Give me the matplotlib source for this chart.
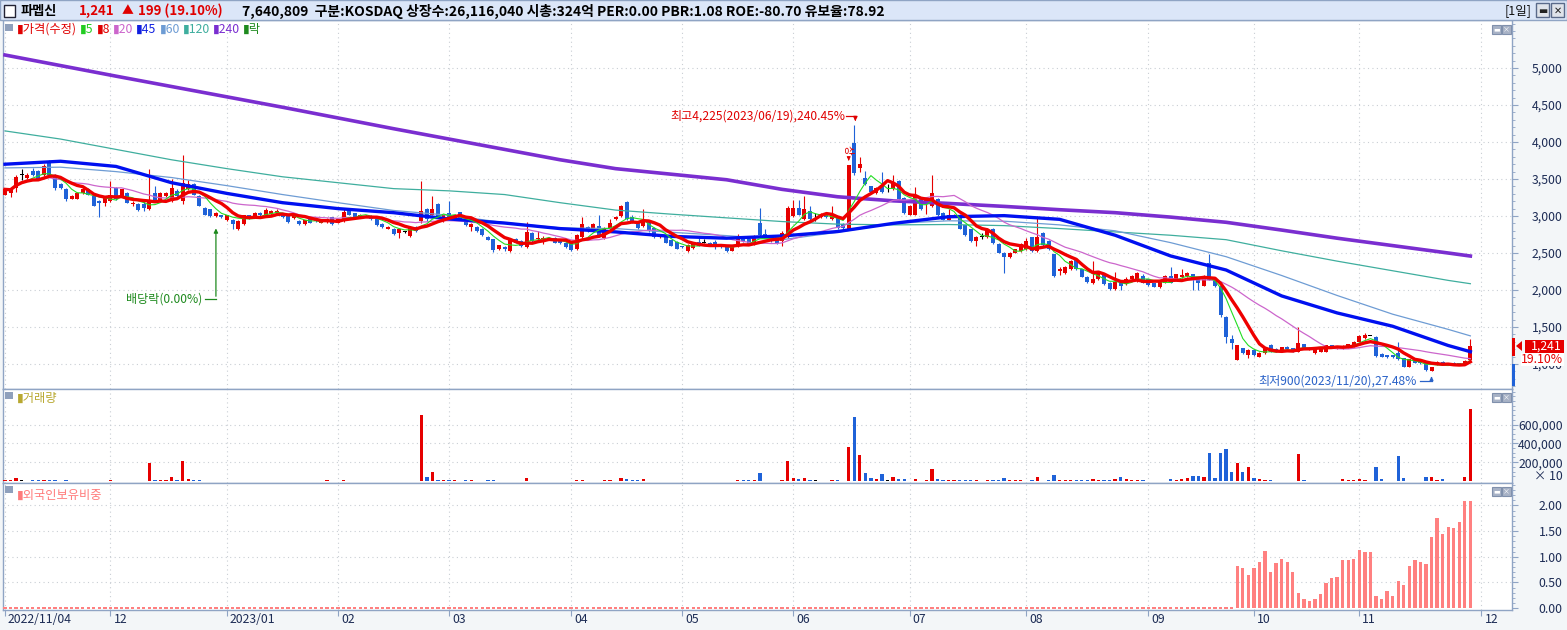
import matplotlib
matplotlib.use("Agg")
import matplotlib.pyplot as plt
import matplotlib.transforms as mtrans
from matplotlib.patches import Rectangle, Polygon
import numpy as np
import pandas as pd

plt.rcParams['font.family'] = ['Noto Sans CJK KR', 'DejaVu Sans']

# daily candles, 2022/11/04 .. 2023/11/29
open_ = [3290,3310,3380,3560,3520,3610,3610,3550,3740,3560,
         3430,3370,3235,3235,3305,3370,3270,3200,3180,3200,
         3380,3270,3315,3160,3160,3160,3090,3315,3200,3270,
         3200,3340,3200,3360,3430,3270,3110,3090,3000,3010,
         2940,2950,2820,2890,3010,3000,3045,3020,3030,3045,
         3020,3000,2970,2930,2890,2965,2965,2910,2920,2985,
         2910,2930,3070,3035,2980,3010,3000,2965,2890,2830,
         2830,2775,2785,2730,2845,2930,3100,3020,3160,2930,
         3045,2965,3055,2955,2855,2855,2830,2720,2685,2550,
         2575,2530,2685,2660,2575,2775,2685,2685,2685,2700,
         2665,2630,2650,2550,2710,2855,2800,2865,2700,2820,
         2955,3000,3190,2980,2920,2865,2930,2840,2710,2730,
         2670,2650,2595,2530,2570,2650,2640,2640,2650,2605,
         2595,2530,2595,2710,2685,2620,2910,2755,2715,2710,
         2665,2710,3000,3110,2955,3070,2980,2980,3020,2955,
         2980,2890,2820,3990,3650,3520,3400,3315,3400,3390,
         3360,3470,3250,3020,3020,3250,3160,3135,3225,3035,
         2945,2990,3020,2875,2820,2660,2720,2710,2830,2620,
         2505,2440,2505,2530,2550,2710,2530,2775,2660,2480,
         2260,2235,2280,2420,2280,2180,2090,2145,2210,2100,
         2010,2125,2080,2145,2120,2190,2145,2090,2035,2100,
         2190,2145,2170,2190,2210,2170,2055,2360,2150,2060,
         1640,1340,1054,1210,1125,1190,1100,1145,1260,1200,
         1165,1235,1210,1165,1265,1200,1150,1165,1165,1250,
         1210,1210,1220,1235,1300,1345,1380,1370,1140,1120,
         1120,1145,1075,965,1055,1040,1010,900,985,1030,
         1010,1020,1010,985,1050]
high = [3380,3380,3560,3640,3580,3650,3620,3700,3760,3570,
        3440,3380,3290,3330,3380,3380,3280,3210,3260,3470,
        3390,3370,3330,3200,3170,3200,3630,3400,3330,3330,
        3500,3360,3830,3480,3440,3280,3120,3100,3060,3020,
        3020,2960,2940,3020,3020,3050,3060,3110,3080,3090,
        3030,3010,3010,2940,2950,2980,2980,2940,2970,2990,
        2960,3110,3080,3040,3030,3020,3010,2970,2900,2870,
        2840,2840,2800,2860,2860,3470,3110,3270,3170,3020,
        3200,3030,3060,2960,2900,2860,2840,2730,2690,2610,
        2590,2690,2700,2670,2920,2790,2800,2730,2720,2710,
        2680,2650,2660,2760,2990,2870,2900,3010,2850,2960,
        3000,3150,3200,3010,2930,3100,2940,2850,2740,2740,
        2680,2660,2600,2620,2650,2700,2690,2650,2670,2620,
        2600,2600,2760,2730,2700,2740,3110,2820,2720,2720,
        2800,3130,3210,3220,3270,3130,3040,3040,3040,3130,
        2990,2900,3690,4225,3800,3610,3410,3390,3590,3430,
        3560,3480,3260,3150,3390,3260,3240,3560,3240,3050,
        3090,3030,3030,2880,2830,2730,2770,2840,2840,2630,
        2510,2520,2560,2630,2700,2720,3000,2790,2680,2490,
        2310,2320,2400,2430,2290,2190,2390,2250,2220,2110,
        2250,2140,2170,2200,2245,2220,2150,2100,2120,2200,
        2310,2220,2280,2240,2220,2180,2200,2490,2160,2070,
        1650,1390,1260,1220,1200,1195,1160,1220,1270,1210,
        1235,1240,1220,1500,1270,1230,1220,1220,1260,1255,
        1240,1250,1270,1310,1390,1420,1385,1375,1150,1125,
        1125,1300,1080,1070,1060,1045,1015,960,1040,1035,
        1015,1025,1015,1060,1333]
low = [3280,3260,3330,3480,3500,3540,3480,3540,3550,3350,
       3360,3200,3230,3230,3300,3280,3130,2980,3140,3190,
       3220,3260,3170,3140,3070,3070,3080,3190,3190,3260,
       3190,3260,3160,3350,3280,3130,3010,2990,2990,2970,
       2930,2820,2810,2880,2960,2990,3000,3010,3020,3040,
       2970,2910,2960,2880,2880,2900,2920,2900,2910,2880,
       2900,2920,3010,2970,2970,3000,2950,2860,2840,2820,
       2740,2700,2770,2720,2790,2900,2930,3010,2980,2920,
       2950,2960,2950,2860,2800,2790,2730,2670,2520,2540,
       2530,2520,2630,2580,2570,2650,2680,2620,2680,2630,
       2620,2570,2530,2540,2700,2790,2790,2720,2690,2810,
       2950,2990,2950,2900,2830,2850,2790,2700,2700,2630,
       2590,2550,2570,2520,2560,2590,2630,2590,2560,2570,
       2520,2525,2580,2650,2610,2610,2730,2700,2650,2620,
       2600,2700,2990,3010,2950,2950,2930,2970,2970,2950,
       2830,2830,2810,3550,3600,3420,3310,3300,3310,3330,
       3350,3210,3030,3010,3010,3080,3030,3120,3000,2940,
       2940,2980,2820,2730,2650,2590,2690,2700,2620,2500,
       2230,2430,2500,2520,2540,2520,2520,2600,2540,2180,
       2200,2220,2270,2270,2170,2100,2080,2140,2070,2000,
       2000,2000,2070,2140,2110,2090,2060,2040,2030,2090,
       2090,2140,2160,2180,2000,2000,2050,2130,2040,1640,
       1280,1200,1050,1130,1080,1110,1090,1140,1160,1160,
       1160,1190,1160,1160,1210,1195,1140,1160,1160,1210,
       1205,1205,1215,1230,1295,1340,1375,1100,1090,1085,
       1085,1060,960,960,1010,1005,905,900,980,995,
       985,985,985,980,1040]
close = [3360,3350,3530,3560,3560,3560,3500,3675,3560,3380,
         3380,3225,3270,3315,3370,3290,3135,3180,3250,3290,
         3225,3360,3180,3180,3080,3110,3200,3200,3315,3315,
         3380,3270,3450,3430,3290,3135,3020,3000,3045,2980,
         3010,2890,2930,3010,2965,3035,3010,3080,3065,3065,
         2980,2920,3000,2890,2945,2910,2930,2930,2965,2890,
         2955,3055,3020,2980,3020,3010,2955,2875,2845,2855,
         2755,2820,2785,2855,2800,3070,2965,3100,2990,3010,
         2965,3020,2955,2875,2890,2800,2740,2675,2535,2605,
         2550,2685,2640,2595,2785,2660,2700,2705,2700,2635,
         2630,2585,2540,2740,2890,2800,2890,2730,2840,2910,
         2980,3135,2955,2910,2840,2930,2800,2710,2730,2640,
         2595,2560,2575,2605,2640,2595,2640,2595,2595,2575,
         2530,2585,2710,2660,2620,2730,2740,2710,2660,2640,
         2775,3110,3110,3020,3090,2955,2980,3020,2980,3020,
         2840,2840,3690,3585,3700,3430,3325,3380,3325,3390,
         3450,3225,3045,3135,3270,3090,3225,3315,3010,2945,
         3010,3020,2830,2740,2660,2720,2720,2810,2630,2505,
         2440,2505,2550,2620,2660,2530,2710,2605,2550,2190,
         2280,2310,2390,2280,2175,2110,2145,2245,2080,2010,
         2110,2055,2155,2190,2235,2100,2065,2045,2110,2190,
         2100,2210,2200,2235,2145,2100,2190,2135,2055,1660,
         1370,1290,1256,1145,1190,1120,1145,1210,1165,1165,
         1225,1200,1165,1280,1220,1220,1210,1210,1250,1220,
         1235,1245,1265,1300,1380,1390,1380,1110,1100,1090,
         1090,1065,965,1065,1020,1010,920,955,1030,1000,
         990,990,990,1042,1241]

# volume in thousands (axis shows units of x10)
volume_k = [6,6,32,8,5,12,8,12,8,12,
            4,8,4,4,4,3,3,3,4,14,
            3,4,3,4,3,3,195,14,14,8,
            45,8,215,25,8,8,4,3,4,3,
            4,3,4,3,3,4,3,4,4,3,
            3,3,4,3,4,3,3,4,8,3,
            4,10,3,3,4,3,3,3,3,4,
            3,4,3,4,3,702,42,100,11,11,
            11,8,4,8,8,4,4,8,8,4,
            4,4,3,3,35,3,4,4,4,3,
            3,3,5,11,11,5,4,4,7,7,
            4,32,18,7,7,25,4,4,4,4,
            4,4,4,4,4,4,4,4,4,4,
            4,4,7,7,7,7,82,4,4,4,
            7,216,35,25,35,7,7,4,4,10,
            7,4,365,677,277,89,35,25,78,7,
            46,18,18,4,21,4,7,128,21,11,
            7,7,7,7,7,7,3,7,7,11,
            28,7,7,7,3,7,39,3,7,64,
            11,7,7,7,7,7,21,7,7,7,
            21,39,18,7,7,7,3,3,3,3,
            18,11,21,28,53,53,39,294,35,300,
            340,99,195,99,152,35,21,11,11,4,
            4,3,3,287,11,5,5,3,5,3,
            5,21,7,7,21,11,2,152,21,5,
            5,266,35,5,3,3,43,43,11,21,
            5,5,5,43,764]

# foreign ownership ratio (%), zero until 2023/10/05
foreign_start = 222
foreign_pct = [0.81,0.79,0.65,0.79,0.89,1.12,0.71,0.87,0.96,0.89,
               0.71,0.30,0.18,0.14,0.18,0.28,0.48,0.59,0.61,0.94,
               0.93,0.96,1.14,1.10,1.10,0.24,0.18,0.34,0.24,0.53,
               0.44,0.81,0.93,0.89,0.85,1.39,1.75,1.45,1.59,1.57,
               1.67,2.08,2.08]

# long moving averages (need history before the window), sampled
ma_idx = [0,10,20,30,40,50,60,70,80,90,100,110,120,130,140,150,160,170,180,190,200,210,220,230,240,250,260,264]
ma45 = [3700,3740,3670,3450,3305,3180,3100,3045,2960,2905,2830,2785,2725,2700,2730,2790,2900,2990,3005,2955,2740,2460,2270,1920,1690,1510,1250,1166]
ma60 = [3650,3660,3600,3520,3410,3290,3180,3075,3010,2910,2840,2830,2780,2735,2680,2780,2900,2935,2930,2880,2800,2640,2450,2196,1926,1673,1468,1380]
ma120 = [4150,4040,3900,3760,3640,3530,3450,3370,3340,3290,3180,3080,3025,2975,2925,2890,2880,2885,2870,2830,2785,2740,2680,2530,2390,2260,2130,2085]
ma240 = [5176,5033,4890,4750,4610,4470,4325,4180,4040,3900,3760,3640,3565,3490,3360,3260,3205,3170,3130,3085,3045,2985,2915,2810,2700,2600,2500,2459]

month_idx = [0,19,40,60,80,102,122,142,163,184,206,225,244,266]
month_lbl = ['2022/11/04','12','2023/01','02','03','04','05','06','07','08','09','10','11','12']

W, H = 1567, 630
fig = plt.figure(figsize=(W/100, H/100), dpi=100)
fig.patch.set_facecolor('#f3f6f8')

def box(x0, y0, x1, y1):
    return [x0/W, 1-y1/H, (x1-x0)/W, (y1-y0)/H]

def fpos(px, py):
    return px/W, 1-py/H

ax_p = fig.add_axes(box(3, 20, 1512, 389))
ax_v = fig.add_axes(box(3, 389, 1512, 483))
ax_f = fig.add_axes(box(3, 483, 1512, 610))

n = len(close)
x = np.arange(n)
o = np.array(open_); c = np.array(close); hi = np.array(high); lo = np.array(low)
UP, DN = '#e60000', '#1f62d8'
cols = np.where(c > o, UP, np.where(c < o, DN, 'black'))

edge = '#8fa4c4'
tick_col = '#1d2c55'
grid_kw = dict(color='#c9ced4', linestyle=(0, (1, 3)), linewidth=0.8)
lab_fs = 8.8

for ax in (ax_p, ax_v, ax_f):
    ax.set_facecolor('white')
    ax.set_xlim(-0.36, 271.5)
    for s in ax.spines.values():
        s.set_color(edge)
        s.set_linewidth(1)
    ax.yaxis.tick_right()
    ax.tick_params(axis='y', which='major', length=4, color=edge, labelcolor=tick_col,
                   labelsize=lab_fs, pad=32.5)
    ax.tick_params(axis='y', which='minor', length=2.5, color=edge)
    ax.set_xticks(month_idx)
    for m in month_idx:
        ax.axvline(m, **grid_kw, zorder=0)
    ax.tick_params(axis='x', length=0, labelbottom=False)

# price panel
ax_p.set_ylim(662, 5649)
yt = np.arange(1000, 5001, 500)
ax_p.set_yticks(yt)
ax_p.set_yticklabels([f'{v:,}' for v in yt])
ax_p.set_yticks(np.arange(700, 5601, 100), minor=True)
for v in yt:
    ax_p.axhline(v, **grid_kw, zorder=0)

ax_p.vlines(x, lo, hi, colors=cols, linewidth=0.8, zorder=2)
body_lo = np.minimum(o, c)
body_h = np.maximum(np.abs(c - o), 8)
ax_p.bar(x, body_h, bottom=body_lo, width=0.72, color=cols, linewidth=0, zorder=3)

cs = pd.Series(close)
ma5 = cs.rolling(5, min_periods=1).mean()
ma8 = cs.rolling(8, min_periods=1).mean()
ma20 = cs.rolling(20, min_periods=1).mean()
ax_p.plot(ma_idx, ma240, color='#7a2ed0', lw=2.6, zorder=4)
ax_p.plot(ma_idx, ma120, color='#3fae9e', lw=0.9, zorder=4)
ax_p.plot(ma_idx, ma60, color='#6e9cd4', lw=0.9, zorder=4)
ax_p.plot(x, ma20, color='#cc66cc', lw=0.9, zorder=4)
ax_p.plot(ma_idx, ma45, color='#0010f0', lw=2.4, zorder=5)
ax_p.plot(x, ma5, color='#22dd22', lw=0.8, zorder=5)
ax_p.plot(x, ma8, color='#ee0000', lw=2.4, zorder=6)

# annotations
hi_i = int(np.argmax(hi)); lo_i = int(np.argmin(lo))
red_t = '#e00000'
ann_fs = 8.7
ax_p.text(hi_i - 1.6, 4351, f'최고{hi[hi_i]:,}(2023/06/19),240.45%', color=red_t,
          fontsize=ann_fs, ha='right', va='center', zorder=7)
ax_p.plot([hi_i - 1.5, hi_i + 0.2], [4351, 4351], color=red_t, lw=0.9, zorder=7)
ax_p.annotate('', xy=(hi_i + 0.2, hi[hi_i] + 20), xytext=(hi_i + 0.2, 4351),
              arrowprops=dict(arrowstyle='-|>', color=red_t, lw=0.9, mutation_scale=6), zorder=7)
ax_p.text(hi_i - 1.2, 3900, '상', color=red_t, fontsize=7.5, rotation=-90,
          ha='center', va='center', zorder=7)
ax_p.annotate('', xy=(hi_i - 1.0, close[hi_i - 1] + 20), xytext=(hi_i - 1.0, 3800),
              arrowprops=dict(arrowstyle='-|>', color=red_t, lw=0.8, mutation_scale=5), zorder=7)

div_i = 38
grn = '#1e8a1e'
ax_p.text(div_i - 2.4, 1878, '배당락(0.00%)', color=grn, fontsize=ann_fs,
          ha='right', va='center', zorder=7)
ax_p.plot([div_i - 1.9, div_i], [1878, 1878], color=grn, lw=0.9, zorder=7)
ax_p.annotate('', xy=(div_i, lo[div_i] - 120), xytext=(div_i, 1878),
              arrowprops=dict(arrowstyle='-|>', color=grn, lw=0.9, mutation_scale=6), zorder=7)

blu = '#2a62c8'
ax_p.text(lo_i - 2.6, 772, f'최저{lo[lo_i]:,}(2023/11/20),27.48%', color=blu, fontsize=ann_fs,
          ha='right', va='center', zorder=7)
ax_p.plot([lo_i - 2.1, lo_i], [772, 772], color=blu, lw=0.9, zorder=7)
ax_p.annotate('', xy=(lo_i, lo[lo_i] - 30), xytext=(lo_i, 772),
              arrowprops=dict(arrowstyle='-|>', color=blu, lw=0.9, mutation_scale=5), zorder=7)

# volume panel
vol = np.array(volume_k) * 1000
ax_v.set_ylim(-21277, 978723)
ax_v.bar(x, vol, width=0.6, color=cols, linewidth=0, zorder=3)
vt = [200000, 400000, 600000]
ax_v.set_yticks(vt)
ax_v.set_yticklabels([f'{v:,}' for v in vt])
ax_v.set_yticks(np.arange(50000, 950001, 50000), minor=True)
for v in vt:
    ax_v.axhline(v, **grid_kw, zorder=0)

# foreign ownership panel
fr = np.zeros(n)
fr[foreign_start:foreign_start + len(foreign_pct)] = foreign_pct
ax_f.set_ylim(-0.039, 2.439)
ax_f.bar(x[:foreign_start], 0.02, bottom=-0.01, width=0.6, color='#ff8080', linewidth=0, zorder=3)
ax_f.bar(x[foreign_start:], fr[foreign_start:], width=0.6, color='#ff8080', linewidth=0, zorder=3)
ft = [0.0, 0.5, 1.0, 1.5, 2.0]
ax_f.set_yticks(ft)
ax_f.set_yticklabels([f'{v:.2f}' for v in ft])
ax_f.set_yticks(np.arange(0, 2.41, 0.1), minor=True)
for v in ft[1:]:
    ax_f.axhline(v, **grid_kw, zorder=0)

for ax in (ax_p, ax_v, ax_f):
    for lab in ax.get_yticklabels():
        lab.set_horizontalalignment('right')

# date axis
ax_f.tick_params(axis='x', length=4, color=edge, direction='out', labelbottom=True,
                 labelsize=lab_fs, labelcolor=tick_col, pad=0)
ax_f.set_xticklabels(month_lbl)
shift = mtrans.ScaledTranslation(3/100, 3/100, fig.dpi_scale_trans)
for lab in ax_f.get_xticklabels():
    lab.set_horizontalalignment('left')
    lab.set_transform(lab.get_transform() + shift)

# header bar
fig.patches.append(Rectangle(fpos(0, 20), 1, 20/H, transform=fig.transFigure,
                             facecolor='#dbe6f8', edgecolor=edge, lw=1, zorder=0))
fig.patches.append(Rectangle(fpos(4, 17), 11/W, 12/H, transform=fig.transFigure,
                             facecolor='white', edgecolor='#223', lw=1))
hy = 1 - 11/H
fig.text(21/W, hy, '파멥신', fontsize=9.5, weight='bold', color='black', va='center')
fig.text(79/W, hy, '1,241', fontsize=9.5, weight='bold', color=red_t, va='center')
fig.text(122/W, hy, '▲', fontsize=8.5, color=red_t, va='center')
fig.text(138/W, hy, '199 (19.10%)', fontsize=9.5, weight='bold', color=red_t, va='center')
fig.text(242/W, hy, '7,640,809  구분:KOSDAQ 상장수:26,116,040 시총:324억 PER:0.00 PBR:1.08 '
         'ROE:-80.70 유보율:78.92', fontsize=10, weight='bold', color='black', va='center')
fig.text(1532/W, hy, '[1일]', fontsize=9, color='#111', va='center', ha='right')
for bx, sym in ((1536, '▬'), (1551, '✕')):
    fig.patches.append(Rectangle(fpos(bx, 17), 13/W, 14/H, transform=fig.transFigure,
                                 facecolor='#dfe3ea', edgecolor='#5a6a8a', lw=1))
    fig.text((bx + 6.5)/W, hy, sym, fontsize=7, color='#222', ha='center', va='center',
             weight='bold')

# panel widgets
for py in (24, 392, 486):
    fig.patches.append(Rectangle(fpos(5, py + 7), 8/W, 7/H, transform=fig.transFigure,
                                 facecolor='#8fa0bc', edgecolor='none', zorder=10))
    for bx, sym in ((1492, '▬'), (1502, '×')):
        fig.patches.append(Rectangle(fpos(bx, py + 10), 9/W, 9/H, transform=fig.transFigure,
                                     facecolor='#a8b2c6', edgecolor='#8090ac', lw=0.8,
                                     zorder=10))
        fig.text((bx + 4.5)/W, 1 - (py + 5.5)/H, sym, fontsize=5, color='white',
                 ha='center', va='center', zorder=11)

# legend, laid out left to right
leg = [('▮가격(수정)', '#e00000'), ('▮5', '#22cc22'), ('▮8', '#e00000'),
       ('▮20', '#cc66cc'), ('▮45', '#1020e0'), ('▮60', '#6e9cd4'),
       ('▮120', '#3fae9e'), ('▮240', '#7a2ed0'), ('▮락', '#1e8a1e')]
renderer = fig.canvas.get_renderer()
px = 17
for txt, col in leg:
    t = fig.text(px/W, 1 - 29/H, txt, fontsize=8.8, color=col, va='center', zorder=11)
    px = t.get_window_extent(renderer).x1 + 3
fig.text(17/W, 1 - 398/H, '▮거래량', fontsize=8.8, color='#b8a830', va='center', zorder=11)
fig.text(17/W, 1 - 495/H, '▮외국인보유비중', fontsize=8.8, color='#ff7a7a', va='center', zorder=11)
fig.text(1563/W, 1 - 476/H, '× 10', fontsize=lab_fs, color=tick_col, ha='right', va='center')

# current price tag
fig.patches.append(Rectangle(fpos(1512, 356), 3/W, 18/H, transform=fig.transFigure,
                             facecolor='#e60000', edgecolor='none', zorder=10))
fig.patches.append(Rectangle(fpos(1512, 386), 3/W, 22/H, transform=fig.transFigure,
                             facecolor='#1f62d8', edgecolor='none', zorder=10))
fig.patches.append(Polygon([fpos(1516, 346), fpos(1522, 341), fpos(1522, 351)],
                           closed=True, transform=fig.transFigure, facecolor='#e60000',
                           zorder=10))
fig.patches.append(Rectangle(fpos(1525, 353), 39/W, 13/H, transform=fig.transFigure,
                             facecolor='#e60000', edgecolor='none', zorder=10))
fig.text(1562/W, 1 - 346.5/H, f'{close[-1]:,}', fontsize=lab_fs, color='white', ha='right',
         va='center', zorder=11)
fig.patches.append(Rectangle(fpos(1521, 366), 43/W, 13/H, transform=fig.transFigure,
                             facecolor='white', edgecolor='none', zorder=10))
fig.text(1563/W, 1 - 359.5/H, '19.10%', fontsize=lab_fs, color='#e60000', ha='right',
         va='center', zorder=11)

fig.savefig('out.png', dpi=100, facecolor=fig.get_facecolor())
